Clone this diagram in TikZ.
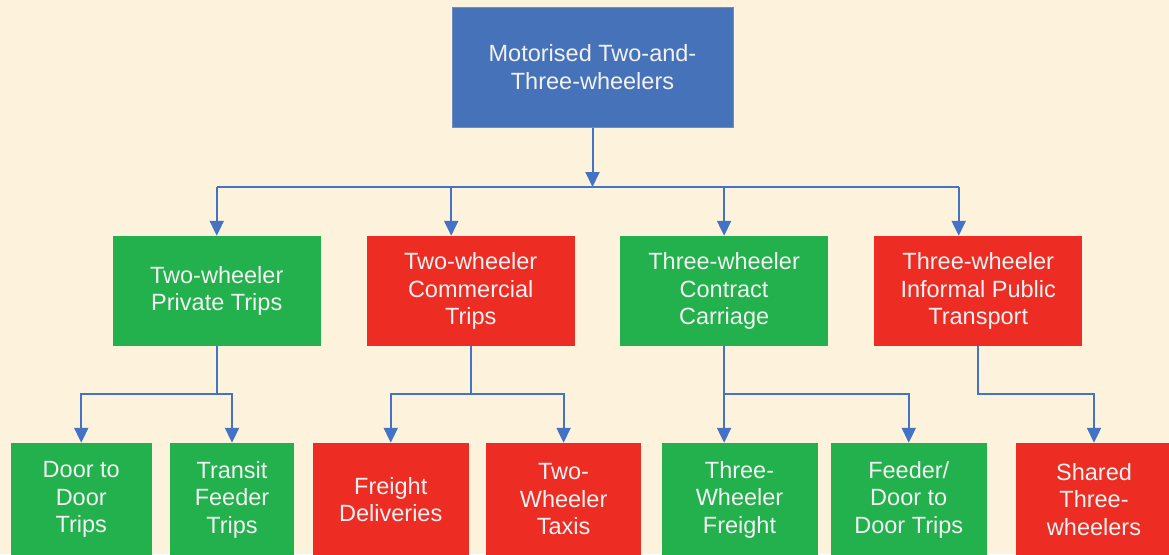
\documentclass[tikz,border=0pt]{standalone}
\usepackage{fontspec}
\setmainfont{Liberation Sans}
\usetikzlibrary{arrows.meta}
\definecolor{bgc}{RGB}{253,243,220}
\definecolor{topblue}{RGB}{70,114,185}
\definecolor{boxgreen}{RGB}{34,177,76}
\definecolor{boxred}{RGB}{237,45,36}
\definecolor{lineblue}{RGB}{68,114,196}
\definecolor{txt}{RGB}{242,242,242}
\begin{document}
\begin{tikzpicture}[x=1pt,y=-1pt,
  box/.style={inner sep=0pt,align=center,text=txt,font=\fontsize{23.5}{27.5}\selectfont},
  gbox/.style={box,fill=boxgreen},
  rbox/.style={box,fill=boxred},
  tbox/.style={box,fill=topblue,draw=topblue!80!white,line width=0.8pt},
  ln/.style={draw=lineblue,line width=2pt},
  arr/.style={ln,-{Triangle[width=14pt,length=15pt]}}]
\useasboundingbox (0,0) rectangle (1169,554);
\clip (0,0) rectangle (1169,554);
\fill[bgc] (0,0) rectangle (1169,554);
% top
\node[tbox,minimum width=281pt,minimum height=120.5pt] (top) at (592.5,67.25) {Motorised Two-and-\\Three-wheelers};
% level 2
\node[gbox,minimum width=207.5pt,minimum height=110pt] (g1) at (216.75,291) {Two-wheeler\\Private Trips};
\node[rbox,minimum width=208pt,minimum height=110pt] (r1) at (470.7,291) {Two-wheeler\\Commercial\\Trips};
\node[gbox,minimum width=208pt,minimum height=110pt] (g2) at (724.1,291) {Three-wheeler\\Contract\\Carriage};
\node[rbox,minimum width=207.5pt,minimum height=110pt] (r2) at (978.2,291) {Three-wheeler\\Informal Public\\Transport};
% level 3
\node[gbox,minimum width=140.5pt,minimum height=113pt] (d1) at (81.25,499.5) {Door to\\Door\\Trips};
\node[gbox,minimum width=124pt,minimum height=113pt] (d2) at (232,499.5) {Transit\\Feeder\\Trips};
\node[rbox,minimum width=156pt,minimum height=113pt] (d3) at (390.75,499.5) {Freight\\Deliveries};
\node[rbox,minimum width=155pt,minimum height=113pt] (d4) at (563.6,499.5) {Two-\\Wheeler\\Taxis};
\node[gbox,minimum width=156pt,minimum height=113pt] (d5) at (739.5,499.5) {Three-\\Wheeler\\Freight};
\node[gbox,minimum width=155.5pt,minimum height=113pt] (d6) at (908.75,499.5) {Feeder/\\Door to\\Door Trips};
\node[rbox,minimum width=156pt,minimum height=113pt] (d7) at (1094,499.5) {Shared\\Three-\\wheelers};
% connectors level 1 -> 2
\coordinate (bus) at (0,187);
\coordinate (bustwo) at (0,394);
\draw[ln] (g1.north |- bus) -- ([xshift=-19.5pt]r2.north |- bus);
\draw[arr] (top.south) -- (top.south |- bus);
\draw[arr] (g1.north |- bus) -- (g1.north);
\draw[arr] ([xshift=-19.5pt]r1.north |- bus) -- ([xshift=-19.5pt]r1.north);
\draw[arr] (g2.north |- bus) -- (g2.north);
\draw[arr] ([xshift=-19.5pt]r2.north |- bus) -- ([xshift=-19.5pt]r2.north);
% connectors level 2 -> 3
\draw[arr] (g1.south) -- (g1.south |- bustwo) -| (d1.north);
\draw[arr] (g1.south |- bustwo) -| (d2.north);
\draw[arr] (r1.south) -- (r1.south |- bustwo) -| (d3.north);
\draw[arr] (r1.south |- bustwo) -| (d4.north);
\draw[arr] (g2.south) -- (g2.south |- d5.north);
\draw[arr] (g2.south |- bustwo) -| (d6.north);
\draw[arr] (r2.south) -- (r2.south |- bustwo) -| (d7.north);
\end{tikzpicture}
\end{document}
